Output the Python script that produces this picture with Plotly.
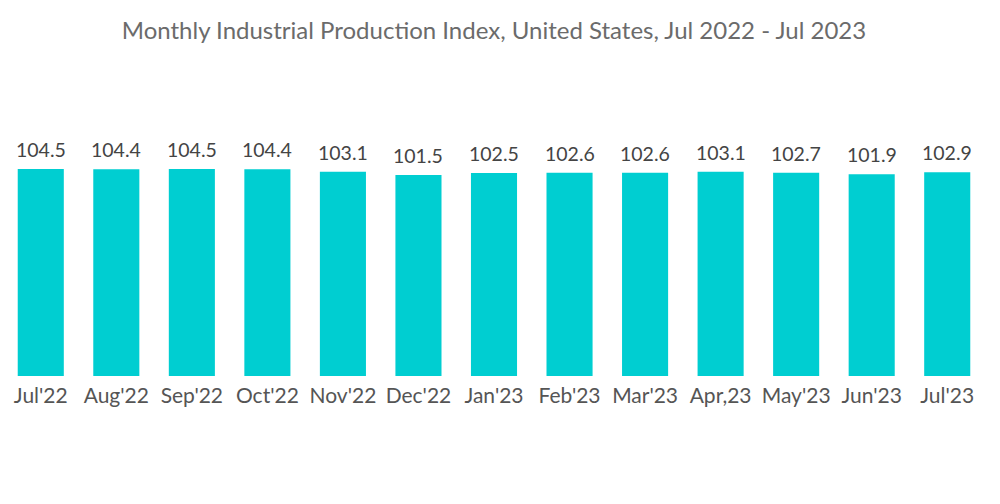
import plotly.graph_objects as go

months = ["Jul'22", "Aug'22", "Sep'22", "Oct'22", "Nov'22", "Dec'22", "Jan'23",
          "Feb'23", "Mar'23", "Apr,23", "May'23", "Jun'23", "Jul'23"]
index_values = [104.5, 104.4, 104.5, 104.4, 103.1, 101.5, 102.5,
                102.6, 102.6, 103.1, 102.7, 101.9, 102.9]
labels = [f"{v:.1f}" for v in index_values]

fig = go.Figure(go.Bar(
    x=months,
    y=index_values,
    marker=dict(color="#00CED1", line=dict(width=0)),
    width=0.61,
    hoverinfo="x+y",
))

for m, v, t in zip(months, index_values, labels):
    fig.add_annotation(x=m, y=v, text=t, showarrow=False, yanchor="bottom",
                       yshift=6, font=dict(family="Lato", size=19.5, color="#444444"))

fig.update_layout(
    width=1000, height=504,
    paper_bgcolor="white", plot_bgcolor="white",
    margin=dict(l=3, r=15, t=100, b=128),
    title=dict(text="Monthly Industrial Production Index, United States, Jul 2022 - Jul 2023",
               x=0.494, xanchor="center", y=0.94, yanchor="middle",
               font=dict(family="Lato", size=24, color="#6b6b6b")),
    showlegend=False,
)
fig.update_xaxes(showgrid=False, showline=False, ticks="", zeroline=False, automargin=False,
                 ticklabelstandoff=5,
                 tickfont=dict(family="Lato", size=21, color="#555555"))
fig.update_yaxes(visible=False, range=[0, 139.4], showgrid=False, zeroline=False)

fig.write_html("out.html", config={"displayModeBar": False},
               post_script="document.body.style.margin='0';")
